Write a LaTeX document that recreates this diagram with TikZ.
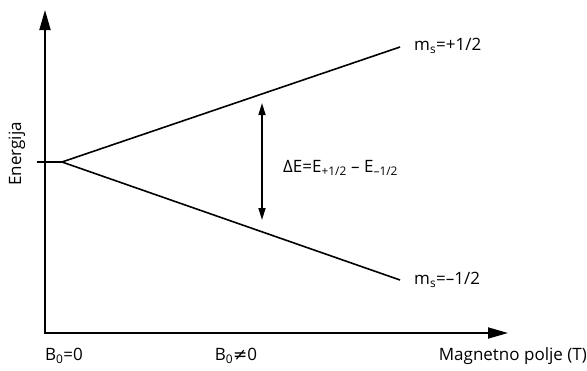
\documentclass[tikz,border=0pt]{standalone}
\usepackage{fontspec}
\setmainfont{Open Sans}
\newfontfamily\symfont{DejaVu Sans}
\usepackage{tikz}
\usetikzlibrary{arrows.meta}

\begin{document}
\begin{tikzpicture}[
      x=1pt,y=-1pt,
      axis/.style={line width=1.8pt,-{Triangle[length=20pt,width=11pt]}},
      level/.style={line width=1.6pt},
      gap/.style={line width=1.6pt,{Triangle[length=12pt,width=7pt]}-{Triangle[length=12pt,width=7pt]}},
      lbl/.style={font=\fontsize{17}{20}\selectfont,inner sep=0pt}
]
\useasboundingbox (0,0) rectangle (587,370);
\coordinate (origin) at (45,333);
\coordinate (ytop) at (45,10);
\coordinate (xend) at (508,333);
\coordinate (tick) at (37,162);
\coordinate (split) at (62,162);
\coordinate (upper) at (400,47);
\coordinate (lower) at (400,280);
\coordinate (gaptop) at (262,103);
\coordinate (gapbot) at (262,220);
\draw[axis] (origin) -- (ytop);
\draw[axis] ([xshift=-0.9pt]origin) -- (xend);
\draw[level] (tick) -- (split);
\draw[level] (split) -- (upper);
\draw[level] (split) -- (lower);
\draw[gap] (gaptop) -- (gapbot);
\node[lbl,anchor=west] (msup) at (414,46) {m\textsubscript{s}=+1/2};
\node[lbl,anchor=west] (msdown) at (414,280) {m\textsubscript{s}=–1/2};
\node[lbl,anchor=west] (deltaE) at (283,168) {ΔE=E\textsubscript{+1/2} – E\textsubscript{–1/2}};
\node[lbl,rotate=90] (energy) at (17,154) {Energija};
\node[lbl] (bzero) at (64,356) {B\textsubscript{0}=0};
\node[lbl] (bnonzero) at (236,356) {B\textsubscript{0}{\symfont ≠}0};
\node[lbl,anchor=east] (field) at (587,356) {Magnetno polje (T)};
\end{tikzpicture}
\end{document}
